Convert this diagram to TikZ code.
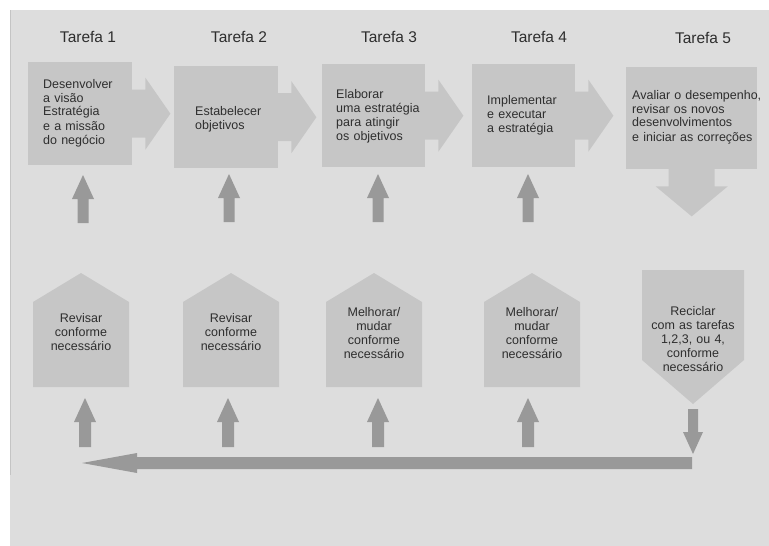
\documentclass[tikz,border=0pt]{standalone}
\usepackage{fontspec}
\setmainfont{Liberation Sans}
\usetikzlibrary{calc}

\definecolor{panel}{HTML}{DDDDDD}
\definecolor{paneledge}{HTML}{C4C4C4}
\definecolor{boxgray}{HTML}{C6C6C6}
\definecolor{arrowgray}{HTML}{999999}
\definecolor{ink}{HTML}{2E2E2E}

% dark upward block arrow: centre x, tip y, head base y, tail y, head half width, shaft half width
\newcommand\blockup[6]{%
  \fill[arrowgray] (#1-#6,#4) -- (#1-#6,#3) -- (#1-#5,#3) -- (#1,#2)
    -- (#1+#5,#3) -- (#1+#6,#3) -- (#1+#6,#4) -- cycle;}
% light block arrow leaving a task box to the right
\newcommand\blockright[1]{%
  \fill[boxgray] ($(#1.east)+(-1,-24)$) -- ++(14,0) -- ++(0,-12) -- ++(25,36)
    -- ++(-25,36) -- ++(0,-12) -- ++(-14,0) -- cycle;}
% house-shaped review box: centre x
\newcommand\housebox[1]{%
  \fill[boxgray] (#1-48,387) -- (#1-48,302) -- (#1,273) -- (#1+48,302)
    -- (#1+48,387) -- cycle;}

\begin{document}
\begin{tikzpicture}[x=1pt,y=-1pt,
  taskbox/.style={fill=boxgray, draw=none, inner sep=0pt, anchor=north west},
  title/.style={font=\fontsize{15.5}{18}\selectfont, text=ink, inner sep=0pt, anchor=base},
  boxtext/.style={font=\fontsize{12.5}{14}\selectfont, text=ink, inner sep=0pt,
    align=left, text width=130pt, anchor=base west},
  housetext/.style={font=\fontsize{12.5}{14.2}\selectfont, text=ink, inner sep=0pt,
    align=center, text width=110pt, anchor=base}]

\path[use as bounding box] (0,0) rectangle (769,546);
\fill[panel] (10,10) rectangle (769,546);
\draw[paneledge, line width=1.2pt] (10.6,10) -- (10.6,475);

% task titles
\node[title] (h1) at (88,42) {Tarefa 1};
\node[title] (h2) at (239,42) {Tarefa 2};
\node[title] (h3) at (389,42) {Tarefa 3};
\node[title] (h4) at (539,42) {Tarefa 4};
\node[title] (h5) at (703,43) {Tarefa 5};

% task boxes
\node[taskbox, minimum width=104pt, minimum height=103pt] (b1) at (28,62) {};
\node[taskbox, minimum width=104pt, minimum height=102pt] (b2) at (174,66) {};
\node[taskbox, minimum width=103pt, minimum height=103pt] (b3) at (322,64) {};
\node[taskbox, minimum width=103pt, minimum height=103pt] (b4) at (472,64) {};
\node[taskbox, minimum width=131pt, minimum height=102pt] (b5) at (626,67) {};

\blockright{b1}
\blockright{b2}
\blockright{b3}
\blockright{b4}
% downward block arrow under task 5
\fill[boxgray] ($(b5.south)+(-23,-1)$) -- ++(0,18) -- ++(-13,0) -- ++(36,30)
  -- ++(36,-30) -- ++(-13,0) -- ++(0,-18) -- cycle;

% task texts
\node[boxtext] (t1) at (43,88) {Desenvolver\\a visão\\Estratégia\\e a missão\\do negócio};
\node[boxtext] (t2) at (195,115) {Estabelecer\\objetivos};
\node[boxtext] (t3) at (336,98) {Elaborar\\uma estratégia\\para atingir\\os objetivos};
\node[boxtext] (t4) at (487,104) {Implementar\\e executar\\a estratégia};
\node[boxtext] (t5) at (632,99) {Avaliar o desempenho,\\revisar os novos\\desenvolvimentos\\e iniciar as correções};

% upward arrows into the task boxes
\blockup{83}{175}{199}{223}{11}{5.5}
\blockup{229}{174}{198}{222}{11}{5.5}
\blockup{378}{174}{198}{222}{11}{5.5}
\blockup{528}{174}{198}{222}{11}{5.5}

% review boxes
\housebox{81}
\housebox{231}
\housebox{374}
\housebox{532}
\fill[boxgray] (642,270) -- (744,270) -- (744,360) -- (693,404) -- (642,360) -- cycle;

\node[housetext] (r1) at (81,322) {Revisar\\conforme\\necessário};
\node[housetext] (r2) at (231,322) {Revisar\\conforme\\necessário};
\node[housetext] (r3) at (374,316) {Melhorar/\\mudar\\conforme\\necessário};
\node[housetext] (r4) at (532,316) {Melhorar/\\mudar\\conforme\\necessário};
\node[housetext] (r5) at (693,315) {Reciclar\\com as tarefas\\1,2,3, ou 4,\\conforme\\necessário};

% upward arrows into the review boxes
\blockup{85}{398}{422}{447}{11}{6}
\blockup{228}{398}{422}{447}{11}{6}
\blockup{378}{398}{422}{447}{11}{6}
\blockup{528}{398}{422}{447}{11}{6}

% recycle arrow down and the long return arrow
\fill[arrowgray] (688,409) -- (688,432) -- (683,432) -- (693,454) -- (703,432)
  -- (698,432) -- (698,409) -- cycle;
\fill[arrowgray] (692,457) -- (137,457) -- (137,453) -- (82,463) -- (137,473)
  -- (137,469) -- (692,469) -- cycle;

\end{tikzpicture}
\end{document}
